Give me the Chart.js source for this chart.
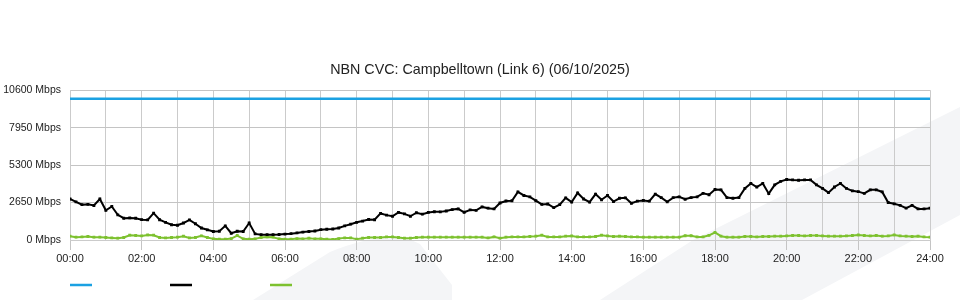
<!DOCTYPE html>
<html>
<head>
<meta charset="utf-8">
<script src="https://cdn.jsdelivr.net/npm/chart.js@4.4.1/dist/chart.umd.min.js"></script>
<style>
  html, body { margin: 0; padding: 0; background: #fff; }
  #wrap { width: 960px; height: 300px; }
</style>
</head>
<body>
<div id="wrap"><canvas id="chart" width="960" height="300"></canvas></div>
<script>
const chartTitle = "NBN CVC: Campbelltown (Link 6) (06/10/2025)";
const yTicks = [0, 2650, 5300, 7950, 10600];
const xTickHours = [0, 2, 4, 6, 8, 10, 12, 14, 16, 18, 20, 22, 24];
const sampleMinutes = 10; // one reading every 10 minutes, 00:00 to 24:00

// capacity line (blue), Mbps
const capacityHours = [0, 24];
const capacity = [10000, 10000];

// traffic (black), Mbps, every 10 min
const traffic = [
  2900, 2700, 2500, 2520, 2440, 2900,   // 00
  2100, 2370, 1780, 1540, 1560, 1540,   // 01
  1440, 1420, 1900, 1430, 1250, 1080,   // 02
  1040, 1200, 1420, 1150, 850, 720,     // 03
  600, 620, 1000, 480, 620, 600,        // 04
  1200, 430, 380, 380, 380, 390,        // 05
  420, 450, 500, 560, 600, 640,         // 06
  730, 760, 780, 850, 1000, 1120,       // 07
  1250, 1340, 1450, 1430, 1880, 1760,   // 08
  1680, 1950, 1850, 1680, 1930, 1830,   // 09
  1950, 2000, 1990, 2050, 2150, 2200,   // 10
  1960, 2130, 2100, 2340, 2250, 2200,   // 11
  2620, 2760, 2780, 3400, 3150, 3050,   // 12
  2780, 2520, 2550, 2290, 2500, 2980,   // 13
  2680, 3330, 2900, 2680, 3250, 2850,   // 14
  3150, 2720, 2950, 2980, 2600, 2750,   // 15
  2800, 2750, 3250, 3000, 2700, 3000,   // 16
  3050, 2880, 3000, 3050, 3300, 3200,   // 17
  3570, 3550, 3000, 2950, 3000, 3650,   // 18
  4000, 3750, 4000, 3280, 3900, 4150,   // 19
  4280, 4250, 4230, 4250, 4250, 3900,   // 20
  3650, 3350, 3750, 4000, 3650, 3480,   // 21
  3420, 3300, 3550, 3550, 3400, 2650,   // 22
  2560, 2450, 2250, 2450, 2200, 2200,   // 23
  2250                                  // 24
];

// second traffic series (green), Mbps, every 10 min
const trafficLow = [
  270, 200, 220, 245, 200, 200,   // 00
  175, 150, 130, 175, 340, 315,   // 01
  290, 360, 340, 175, 150, 175,   // 02
  200, 270, 150, 175, 290, 175,   // 03
  80, 60, 60, 100, 315, 80,       // 04
  60, 80, 175, 220, 200, 80,      // 05
  60, 60, 100, 80, 130, 80,       // 06
  80, 60, 40, 100, 150, 150,      // 07
  60, 130, 175, 175, 175, 220,    // 08
  220, 175, 130, 130, 175, 200,   // 09
  200, 200, 200, 200, 200, 200,   // 10
  200, 200, 200, 200, 150, 220,   // 11
  130, 200, 220, 220, 220, 245,   // 12
  270, 340, 220, 220, 220, 270,   // 13
  290, 220, 220, 220, 245, 340,   // 14
  290, 245, 270, 245, 220, 220,   // 15
  200, 200, 200, 200, 200, 200,   // 16
  200, 300, 300, 220, 220, 330,   // 17
  530, 270, 200, 200, 200, 245,   // 18
  245, 220, 245, 245, 270, 270,   // 19
  290, 315, 315, 290, 315, 315,   // 20
  290, 270, 270, 270, 290, 315,   // 21
  360, 315, 290, 315, 270, 290,   // 22
  360, 290, 270, 245, 270, 220,   // 23
  200                             // 24
];

const seriesColors = ["#1ba1e2", "#000000", "#7dc12f"];

function toPoints(values) {
  return values.map((v, i) => ({ x: i * sampleMinutes / 60, y: v }));
}

function hourLabel(h) {
  return String(h).padStart(2, "0") + ":00";
}

// faint background watermark shapes
const watermark = {
  id: "watermark",
  beforeDraw(chart) {
    const c = chart.ctx;
    c.save();
    c.fillStyle = "#f4f5f7";
    c.beginPath();
    c.moveTo(253, 300);
    c.lineTo(330, 252);
    c.quadraticCurveTo(390, 228, 420, 244);
    c.lineTo(452, 285);
    c.lineTo(452, 300);
    c.closePath();
    c.fill();
    c.beginPath();
    c.moveTo(600, 300);
    c.lineTo(693, 240);
    c.lineTo(960, 107);
    c.lineTo(960, 215);
    c.lineTo(802, 300);
    c.closePath();
    c.fill();
    c.restore();
  }
};

// legend: short coloured lines under the plot, no text
const lineLegend = {
  id: "lineLegend",
  afterDraw(chart) {
    const c = chart.ctx;
    const left = chart.chartArea.left;
    c.save();
    c.lineWidth = 2.5;
    chart.data.datasets.forEach((ds, i) => {
      c.strokeStyle = ds.borderColor;
      c.beginPath();
      c.moveTo(left + i * 100, 285);
      c.lineTo(left + i * 100 + 22, 285);
      c.stroke();
    });
    c.restore();
  }
};

const ctx = document.getElementById("chart").getContext("2d");
new Chart(ctx, {
  type: "line",
  data: {
    datasets: [
      {
        label: "Capacity",
        data: capacityHours.map((h, i) => ({ x: h, y: capacity[i] })),
        borderColor: seriesColors[0],
        borderWidth: 2.5,
        pointRadius: 0
      },
      {
        label: "Traffic",
        data: toPoints(traffic),
        borderColor: seriesColors[1],
        backgroundColor: seriesColors[1],
        borderWidth: 2,
        pointRadius: 0.6,
        pointStyle: "rect"
      },
      {
        label: "Traffic 2",
        data: toPoints(trafficLow),
        borderColor: seriesColors[2],
        backgroundColor: seriesColors[2],
        borderWidth: 2,
        pointRadius: 0.6,
        pointStyle: "rect"
      }
    ]
  },
  options: {
    responsive: false,
    animation: false,
    layout: { padding: { left: 0, right: 0, top: 0, bottom: 36 } },
    plugins: {
      legend: { display: false },
      tooltip: { enabled: false },
      title: {
        display: true,
        text: chartTitle,
        color: "#222",
        font: { family: "Liberation Sans", size: 14.3, weight: "normal" },
        padding: { top: 61, bottom: 12 }
      }
    },
    scales: {
      x: {
        type: "linear",
        min: 0,
        max: 24,
        afterFit: (s) => { s.height = 24; },
        afterBuildTicks: (s) => {
          s.ticks = Array.from({ length: 25 }, (_, h) => ({ value: h }));
        },
        ticks: {
          autoSkip: false,
          maxRotation: 0,
          padding: 2,
          color: "#222",
          font: { family: "Liberation Sans", size: 11 },
          callback: (v) => xTickHours.includes(v) ? hourLabel(v) : ""
        },
        grid: {
          color: "#cbcbcb",
          tickLength: 10,
          tickColor: (c) => xTickHours.includes(c.tick.value) ? "#c4c4c4" : "rgba(0,0,0,0)"
        },
        border: { color: "#cbcbcb" }
      },
      y: {
        min: yTicks[0],
        max: yTicks[yTicks.length - 1],
        afterFit: (s) => { s.width = 70; },
        afterBuildTicks: (s) => {
          s.ticks = yTicks.map((v) => ({ value: v }));
        },
        ticks: {
          padding: 9,
          color: "#222",
          font: { family: "Liberation Sans", size: 10.5 },
          callback: (v) => v + " Mbps"
        },
        grid: { color: "#c4c4c4", drawTicks: false },
        border: { color: "#cbcbcb" }
      },
      // empty right-hand axis, only keeps a 30px margin on the right
      yRight: {
        position: "right",
        min: yTicks[0],
        max: yTicks[yTicks.length - 1],
        afterFit: (s) => { s.width = 30; },
        ticks: { display: false },
        grid: { drawOnChartArea: false, drawTicks: false },
        border: { display: false }
      }
    }
  },
  plugins: [watermark, lineLegend]
});
</script>
</body>
</html>
